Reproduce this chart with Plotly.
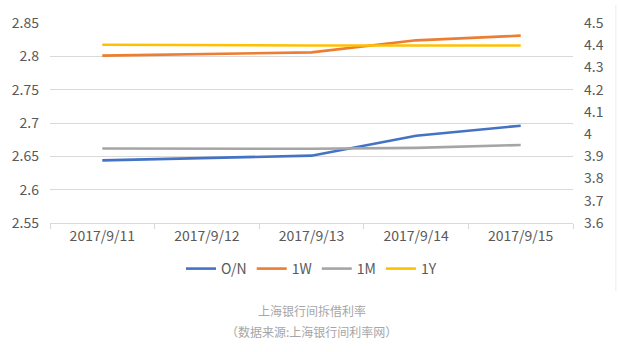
import plotly.graph_objects as go

dates = ["2017/9/11", "2017/9/12", "2017/9/13", "2017/9/14", "2017/9/15"]
on_rate = [2.644, 2.648, 2.651, 2.681, 2.696]
w1_rate = [2.801, 2.803, 2.806, 2.824, 2.831]
m1_rate = [3.935, 3.935, 3.934, 3.938, 3.951]
y1_rate = [4.402, 4.399, 4.399, 4.399, 4.399]
left_ticks = [2.55, 2.6, 2.65, 2.7, 2.75, 2.8, 2.85]
left_labels = ["2.55", "2.6", "2.65", "2.7", "2.75", "2.8", "2.85"]
right_ticks = [3.6, 3.7, 3.8, 3.9, 4.0, 4.1, 4.2, 4.3, 4.4, 4.5]
right_labels = ["3.6", "3.7", "3.8", "3.9", "4", "4.1", "4.2", "4.3", "4.4", "4.5"]
caption1 = "上海银行间拆借利率"
caption2 = "（数据来源:上海银行间利率网）"

FONT = "Noto Sans CJK SC"
TICKC = "#595959"

fig = go.Figure()
series = [
    ("O/N", on_rate, "#4472C4", "y"),
    ("1W", w1_rate, "#ED7D31", "y"),
    ("1M", m1_rate, "#A5A5A5", "y2"),
    ("1Y", y1_rate, "#FFC000", "y2"),
]
for name, vals, col, ax in series:
    fig.add_trace(go.Scatter(x=dates, y=vals, name=name, mode="lines",
                             line=dict(color=col, width=2.6), yaxis=ax))

fig.update_layout(
    width=620, height=352,
    margin=dict(l=48, r=47, t=18, b=129),
    paper_bgcolor="white", plot_bgcolor="white",
    font=dict(family=FONT, size=14, color=TICKC),
    showlegend=True,
    legend=dict(orientation="h", x=0.5, xanchor="center", y=-0.23, yanchor="middle",
                font=dict(size=14, color=TICKC), itemwidth=30, tracegroupgap=0),
    xaxis=dict(type="category", range=[-0.5, 4.5], showgrid=False,
               showline=True, linecolor="#d9d9d9", linewidth=1,
               ticks="outside", tickson="boundaries", ticklen=5, tickcolor="#d9d9d9",
               tickfont=dict(size=14, color=TICKC), fixedrange=True),
    yaxis=dict(range=[2.55, 2.85], tickvals=left_ticks, ticktext=left_labels,
               showgrid=True, gridcolor="#d9d9d9", gridwidth=1, zeroline=False,
               showline=False, ticks="", ticklabelstandoff=10,
               tickfont=dict(size=14, color=TICKC)),
    yaxis2=dict(range=[3.6, 4.5], tickvals=right_ticks, ticktext=right_labels,
                overlaying="y", side="right", showgrid=False, zeroline=False,
                showline=False, ticks="", ticklabelstandoff=10,
                tickfont=dict(size=14, color=TICKC)),
    annotations=[
        dict(text=caption1, xref="paper", yref="paper", x=0.5, y=-0.439,
             xanchor="center", yanchor="middle", showarrow=False,
             font=dict(family=FONT, size=12, color="#a6a6a6")),
        dict(text=caption2, xref="paper", yref="paper", x=0.5, y=-0.54,
             xanchor="center", yanchor="middle", showarrow=False,
             font=dict(family=FONT, size=12, color="#a6a6a6")),
    ],
    shapes=[
        dict(type="line", xref="paper", yref="paper", x0=1.082, x1=1.082,
             y0=1.09, y1=-0.34, line=dict(color="#ececec", width=1)),
    ],
)

fig.write_html("out.html")
